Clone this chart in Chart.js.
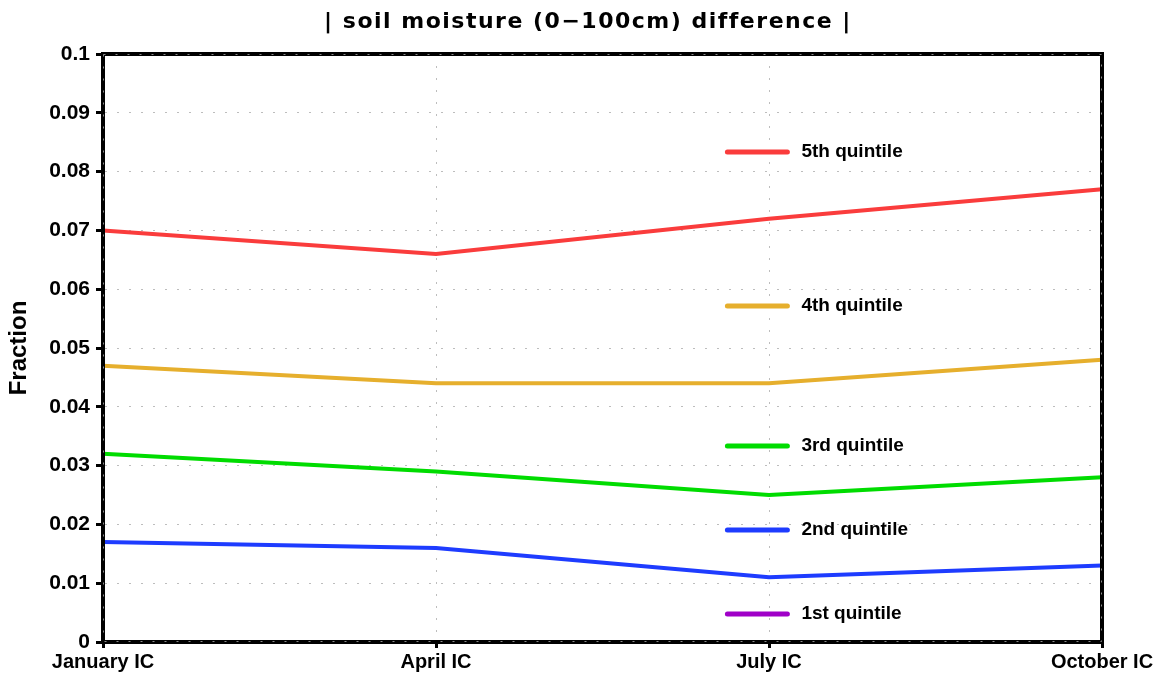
<!DOCTYPE html>
<html>
<head>
<meta charset="utf-8">
<title>soil moisture difference</title>
<script src="https://cdn.jsdelivr.net/npm/chart.js@4/dist/chart.umd.min.js"></script>
<style>
  html, body { margin: 0; padding: 0; background: #fff; }
  #wrap { width: 1164px; height: 681px; }
</style>
</head>
<body>
<div id="wrap"><canvas id="smChart" width="1164" height="681"></canvas></div>
<script>
// data
const categories = ["January IC", "April IC", "July IC", "October IC"];
const q5 = [0.070, 0.066, 0.072, 0.077];
const q4 = [0.047, 0.044, 0.044, 0.048];
const q3 = [0.032, 0.029, 0.025, 0.028];
const q2 = [0.017, 0.016, 0.011, 0.013];
const q1 = [0, 0, 0, 0];
const seriesNames = ["5th quintile", "4th quintile", "3rd quintile", "2nd quintile", "1st quintile"];
const yTickLabels = ["0", "0.01", "0.02", "0.03", "0.04", "0.05", "0.06", "0.07", "0.08", "0.09", "0.1"];
const chartTitle = "| soil moisture (0\u2212100cm) difference |";

const colors = ["rgb(250,60,60)", "rgb(230,175,45)", "rgb(0,220,0)", "rgb(30,60,255)", "rgb(160,0,200)"];
// where the in-plot legend rows sit, as fractions of the plot area
const legendRows = [1 / 6, 3 / 7, 2 / 3, 17 / 21, 20 / 21];

window.onload = function() {
  const ctx = document.getElementById("smChart").getContext("2d");
  const values = [q5, q4, q3, q2, q1];

  const datasets = values.map((v, i) => ({
    label: seriesNames[i],
    data: v,
    borderColor: colors[i],
    backgroundColor: colors[i],
    borderWidth: 4,
    pointRadius: 0,
    tension: 0,
    fill: false
  }));

  // title with the wide GrADS-like spacing
  const wideTitle = {
    id: "wideTitle",
    afterDraw(chart) {
      const c = chart.ctx;
      c.save();
      c.font = "bold 22px 'DejaVu Sans', sans-serif";
      c.letterSpacing = "1.5px";
      c.fillStyle = "#000";
      c.textAlign = "center";
      c.textBaseline = "middle";
      c.fillText(chartTitle, chart.width / 2 + 6, 22);
      c.restore();
    }
  };

  // black frame round the plot, drawn over the lines, dotted like the grid
  const frame = {
    id: "frame",
    afterDatasetsDraw(chart) {
      const { ctx, chartArea: a } = chart;
      ctx.save();
      ctx.strokeStyle = "#000";
      ctx.lineWidth = 4;
      ctx.strokeRect(a.left, a.top, a.right - a.left, a.bottom - a.top);
      ctx.strokeStyle = "#8a8a8a";
      ctx.lineWidth = 1;
      ctx.setLineDash([2, 10]);
      ctx.strokeRect(a.left + 0.5, a.top + 0.5, a.right - a.left - 1, a.bottom - a.top - 1);
      ctx.restore();
    }
  };

  const quintileLegend = {
    id: "quintileLegend",
    afterDraw(chart) {
      const { ctx, chartArea: a } = chart;
      const w = a.right - a.left;
      const h = a.bottom - a.top;
      const x0 = a.left + w * 0.625;
      ctx.save();
      ctx.font = "bold 19px 'Liberation Sans', Arial, sans-serif";
      ctx.textBaseline = "middle";
      ctx.lineCap = "round";
      seriesNames.forEach((name, i) => {
        const y = a.top + h * legendRows[i];
        ctx.strokeStyle = colors[i];
        ctx.lineWidth = 5;
        ctx.beginPath();
        ctx.moveTo(x0, y);
        ctx.lineTo(x0 + 60, y);
        ctx.stroke();
        ctx.fillStyle = "#000";
        ctx.fillText(name, x0 + 74, y);
      });
      ctx.restore();
    }
  };

  new Chart(ctx, {
    type: "line",
    data: { labels: categories, datasets: datasets },
    plugins: [frame, quintileLegend, wideTitle],
    options: {
      responsive: false,
      animation: false,
      layout: { padding: { left: 0, right: 62, top: 54, bottom: 0 } },
      plugins: {
        legend: { display: false },
        tooltip: { enabled: false },
        title: { display: false }
      },
      scales: {
        x: {
          offset: false,
          grid: {
            color: "#bdbdbd",
            lineWidth: 1,
            tickLength: 6,
            tickColor: "#000",
            tickWidth: 3
          },
          border: { display: true, color: "#000", width: 3, dash: [2, 10] },
          ticks: {
            color: "#000",
            padding: 2,
            maxRotation: 0,
            font: { family: "'Liberation Sans', Arial, sans-serif", size: 20, weight: "bold" }
          },
          afterFit(scale) { scale.height = 39; }
        },
        y: {
          min: 0,
          max: 0.1,
          grid: {
            color: "#bdbdbd",
            lineWidth: 1,
            tickLength: 7,
            tickColor: "#000",
            tickWidth: 3
          },
          border: { display: true, color: "#000", width: 3, dash: [2, 10] },
          ticks: {
            stepSize: 0.01,
            color: "#000",
            padding: 6,
            font: { family: "'Liberation Sans', Arial, sans-serif", size: 21, weight: "bold" },
            callback: (v, i) => yTickLabels[i]
          },
          title: {
            display: true,
            text: "Fraction",
            color: "#000",
            font: { family: "'Liberation Sans', Arial, sans-serif", size: 24, weight: "bold" },
            padding: { top: 5, bottom: 0 }
          },
          afterFit(scale) { scale.width = 103; }
        }
      }
    }
  });
};
</script>
</body>
</html>
